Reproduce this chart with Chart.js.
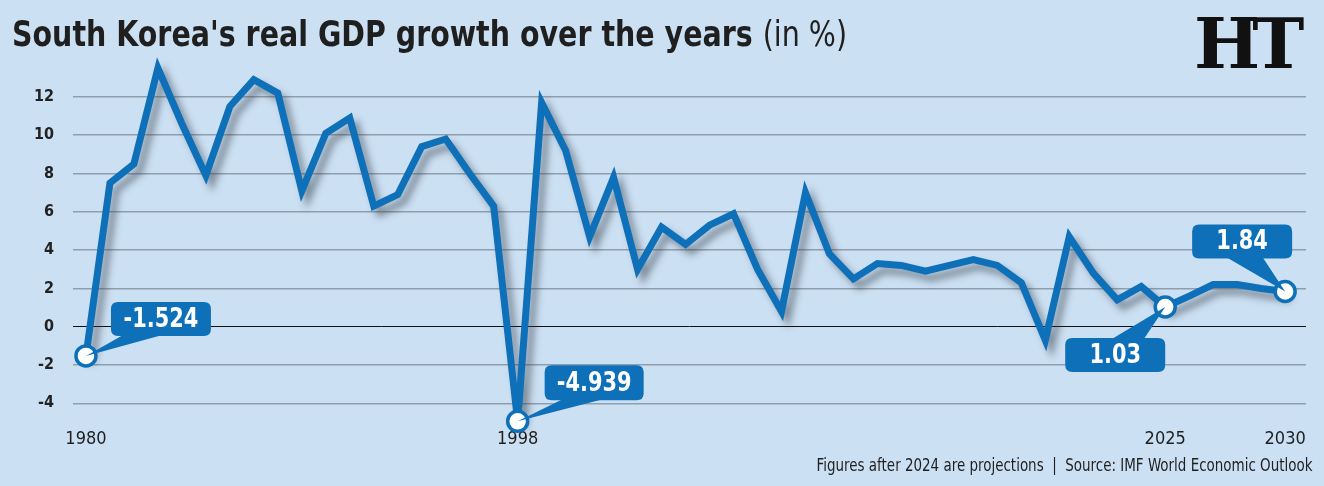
<!DOCTYPE html>
<html>
<head>
<meta charset="utf-8">
<script src="https://cdn.jsdelivr.net/npm/chart.js@4"></script>
<style>
  html, body { margin: 0; padding: 0; }
  body { width: 1324px; height: 486px; background: #cce0f3; position: relative; overflow: hidden;
         font-family: "Liberation Sans Narrow", "DejaVu Sans Condensed", "Roboto Condensed", sans-serif; }
  #wrap { position: absolute; left: 0; top: 0; width: 1324px; height: 486px; }
  #title { position: absolute; left: 12px; top: 13px; font-size: 36px; font-weight: bold; color: #1f1f1f;
           white-space: nowrap; transform: scaleX(0.88); transform-origin: left top; }
  #title span { font-weight: normal; }
  #logo { position: absolute; left: 1194px; top: 2px; font-family: "DejaVu Serif", serif; font-weight: bold;
          font-size: 70px; color: #111; letter-spacing: -8px; }
  #note { position: absolute; right: 12px; top: 455px; font-size: 17px; color: #1f1f1f; white-space: nowrap;
          transform: scaleX(0.88); transform-origin: right top; }
</style>
</head>
<body>
<div id="wrap"><canvas id="chart" width="1324" height="486"></canvas></div>
<div id="title">South Korea's real GDP growth over the years <span>(in %)</span></div>
<div id="logo">HT</div>
<div id="note">Figures after 2024 are projections &nbsp;|&nbsp; Source: IMF World Economic Outlook</div>
<script>
const years = [];
for (let y = 1980; y <= 2030; y++) years.push(y);

const growth = [
  -1.524, 7.5, 8.5, 13.5, 10.6, 7.9, 11.5, 12.9, 12.2, 7.1,
  10.1, 10.9, 6.3, 6.9, 9.4, 9.8, 8.0, 6.3, -4.939, 11.7,
  9.2, 4.7, 7.8, 3.0, 5.2, 4.3, 5.3, 5.9, 3.0, 0.8,
  7.0, 3.8, 2.5, 3.3, 3.2, 2.9, 3.2, 3.5, 3.2, 2.3,
  -0.7, 4.7, 2.8, 1.4, 2.1, 1.03, 1.6, 2.2, 2.2, 2.0,
  1.84
];

const xTickYears = [1980, 1998, 2025, 2030];
const yTicks = [-4, -2, 0, 2, 4, 6, 8, 10, 12];

// highlighted points with callout text
const calloutYears = [1980, 1998, 2025, 2030];
const calloutTexts = ['-1.524', '-4.939', '1.03', '1.84'];

const blue = '#0d70b8';

// box placement relative to the point (px): left, top, wedge base x0/x1 (relative to box left), edge
const calloutStyle = [
  { dx: 25, dy: -54, w: 100, h: 34, b0: 14, b1: 55, edge: 'bottom' },
  { dx: 27, dy: -56, w: 99, h: 35, b0: 20, b1: 62, edge: 'bottom' },
  { dx: -100, dy: 31, w: 100, h: 34, b0: 45, b1: 78, edge: 'top' },
  { dx: -93, dy: -67, w: 100, h: 34, b0: 33, b1: 70, edge: 'bottom' }
];

const shadowPlugin = {
  id: 'lineShadow',
  beforeDatasetDraw(chart, args) {
    if (args.index !== 0) return;
    const ctx = chart.ctx;
    ctx.save();
    ctx.shadowColor = 'rgba(50,60,70,0.5)';
    ctx.shadowBlur = 7;
    ctx.shadowOffsetX = 6;
    ctx.shadowOffsetY = 7;
  },
  afterDatasetDraw(chart, args) {
    if (args.index !== 0) return;
    chart.ctx.restore();
  }
};

function roundRect(ctx, x, y, w, h, r) {
  ctx.beginPath();
  ctx.moveTo(x + r, y);
  ctx.lineTo(x + w - r, y);
  ctx.quadraticCurveTo(x + w, y, x + w, y + r);
  ctx.lineTo(x + w, y + h - r);
  ctx.quadraticCurveTo(x + w, y + h, x + w - r, y + h);
  ctx.lineTo(x + r, y + h);
  ctx.quadraticCurveTo(x, y + h, x, y + h - r);
  ctx.lineTo(x, y + r);
  ctx.quadraticCurveTo(x, y, x + r, y);
  ctx.closePath();
}

const calloutPlugin = {
  id: 'callouts',
  afterDatasetsDraw(chart) {
    const ctx = chart.ctx;
    const xs = chart.scales.x, ys = chart.scales.y;
    ctx.save();
    calloutYears.forEach((yr, i) => {
      const v = growth[years.indexOf(yr)];
      const px = xs.getPixelForValue(yr), py = ys.getPixelForValue(v);
      const s = calloutStyle[i];
      const bx = px + s.dx, by = py + s.dy;
      const ey = s.edge === 'bottom' ? by + s.h - 2 : by + 2;
      // wedge
      ctx.fillStyle = blue;
      ctx.beginPath();
      ctx.moveTo(bx + s.b0, ey);
      ctx.lineTo(bx + s.b1, ey);
      ctx.lineTo(px, py);
      ctx.closePath();
      ctx.fill();
      // box
      roundRect(ctx, bx, by, s.w, s.h, 7);
      ctx.fill();
      ctx.save();
      ctx.translate(bx + s.w / 2, by + s.h / 2 + 1);
      ctx.scale(0.86, 1);
      ctx.fillStyle = '#ffffff';
      ctx.font = 'bold 27px "Liberation Sans Narrow", "DejaVu Sans Condensed", sans-serif';
      ctx.textAlign = 'center';
      ctx.textBaseline = 'middle';
      ctx.fillText(calloutTexts[i], 0, 0);
      ctx.restore();
    });
    ctx.restore();
  }
};

new Chart(document.getElementById('chart'), {
  type: 'line',
  data: {
    datasets: [{
      data: years.map((y, i) => ({ x: y, y: growth[i] })),
      borderColor: blue,
      borderWidth: 7,
      borderJoinStyle: 'miter',
      pointRadius: 0,
      tension: 0,
      clip: false,
      order: 1
    }, {
      data: calloutYears.map(y => ({ x: y, y: growth[years.indexOf(y)] })),
      showLine: false,
      pointRadius: 10,
      pointBackgroundColor: '#ffffff',
      pointBorderColor: blue,
      pointBorderWidth: 3.5,
      clip: false,
      order: 0
    }]
  },
  options: {
    responsive: false,
    animation: false,
    layout: { padding: { left: 0, right: 18, top: 58.6, bottom: 30 } },
    plugins: { legend: { display: false }, tooltip: { enabled: false } },
    scales: {
      x: {
        type: 'linear',
        min: 1979.46,
        max: 2030.87,
        afterBuildTicks: scale => { scale.ticks = xTickYears.map(v => ({ value: v })); },
        afterFit: scale => { scale.height = 29.7; },
        grid: { display: false, drawTicks: false },
        border: { display: false },
        ticks: {
          autoSkip: false,
          maxRotation: 0,
          padding: 2,
          color: '#1f1f1f',
          font: { family: '"Liberation Sans Narrow", "DejaVu Sans Condensed", sans-serif', size: 18 },
          callback: v => String(v)
        }
      },
      y: {
        min: -5.2,
        max: 14,
        afterBuildTicks: scale => { scale.ticks = yTicks.map(v => ({ value: v })); },
        afterFit: scale => { scale.width = 73; },
        grid: {
          drawTicks: false,
          color: ctx => ctx.tick && ctx.tick.value === 0 ? '#111111' : '#8f9eac',
          lineWidth: ctx => ctx.tick && ctx.tick.value === 0 ? 1 : 1.5
        },
        border: { display: false },
        ticks: {
          padding: 19,
          color: '#222222',
          font: { family: '"Liberation Sans Narrow", "DejaVu Sans Condensed", sans-serif', size: 16, weight: 'bold' },
          callback: v => String(v)
        }
      }
    }
  },
  plugins: [shadowPlugin, calloutPlugin]
});
</script>
</body>
</html>
